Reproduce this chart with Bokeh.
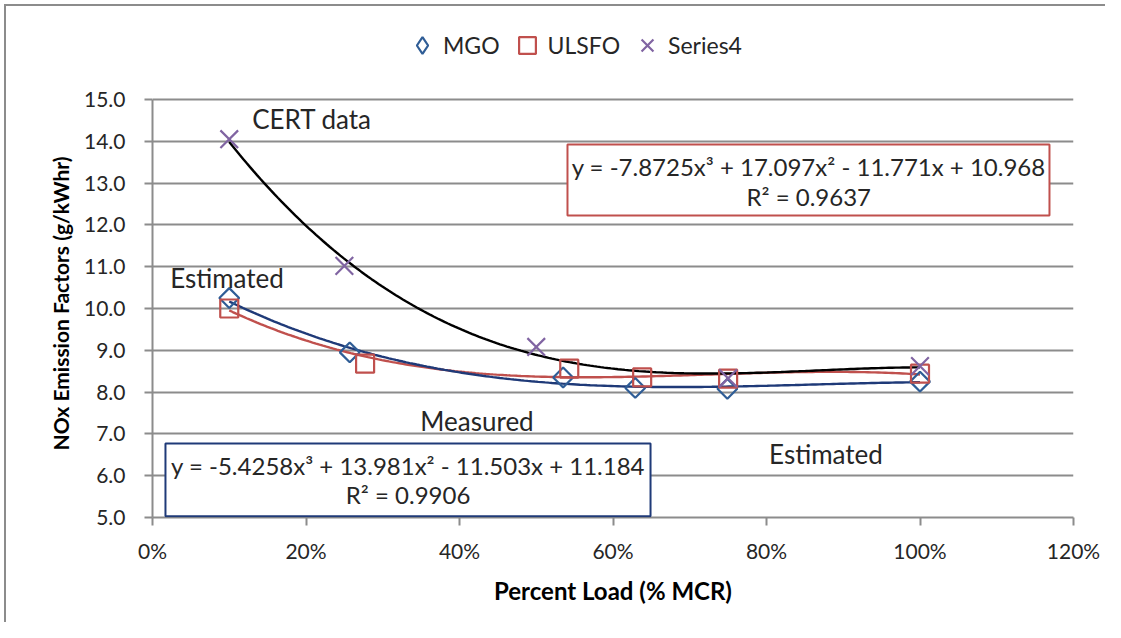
import numpy as np
from bokeh.plotting import figure
from bokeh.models import (Range1d, FixedTicker, NumeralTickFormatter, Legend,
                          LegendItem, Label, BoxAnnotation, Title)
from bokeh.embed import file_html
from bokeh.resources import INLINE

# ---------------- data ----------------
mgo_load = [0.10, 0.257, 0.535, 0.629, 0.749, 1.00]
mgo_nox = [10.25, 8.95, 8.35, 8.10, 8.08, 8.25]

ulsfo_load = [0.10, 0.277, 0.543, 0.638, 0.750, 1.00]
ulsfo_nox = [10.00, 8.68, 8.56, 8.35, 8.32, 8.44]

s4_load = [0.10, 0.25, 0.50, 0.75, 1.00]
s4_nox = [14.05, 11.02, 9.08, 8.33, 8.62]

# trendline coefficients shown on the chart (highest power first)
mgo_fit = [-5.4258, 13.981, -11.503, 11.184]
ulsfo_fit = [-7.8725, 17.097, -11.771, 10.968]

x_ticks = [0, 0.2, 0.4, 0.6, 0.8, 1.0, 1.2]
y_ticks = [5, 6, 7, 8, 9, 10, 11, 12, 13, 14, 15]

mgo_eq = "y = -5.4258x³ + 13.981x² - 11.503x + 11.184"
mgo_r2 = "R² = 0.9906"
ulsfo_eq = "y = -7.8725x³ + 17.097x² - 11.771x + 10.968"
ulsfo_r2 = "R² = 0.9637"

FONT = "Lato"
GRID = "#8c8c8c"
TXT = "#262626"
BLUE = "#2f5d96"
NAVY = "#1f3a78"
RED = "#c0504d"
PURPLE = "#8064a2"

# plot frame extends above the 15.0 line to hold the legend (axis bounded 5-15)
Y_TOP = 5 + 10 * 507 / 418

p = figure(width=1105, height=622, output_backend="svg", toolbar_location=None,
           x_range=Range1d(0, 1.2), y_range=Range1d(5, Y_TOP),
           min_border_left=152, min_border_right=32, min_border_top=10,
           min_border_bottom=105)
line_bg = f"linear-gradient({GRID}, {GRID})"
p.styles = {"background": f"{line_bg} 4px 4px / 2px 100% no-repeat, "
                          f"{line_bg} 4px 4px / 100% 2px no-repeat, white"}
p.outline_line_color = None
p.background_fill_color = "white"
p.border_fill_color = None

# axes
p.xaxis.ticker = FixedTicker(ticks=x_ticks)
p.xaxis.formatter = NumeralTickFormatter(format="0%")
p.yaxis.ticker = FixedTicker(ticks=y_ticks)
p.yaxis.formatter = NumeralTickFormatter(format="0.0")
p.yaxis.bounds = (5, 15)
for ax in (p.xaxis[0], p.yaxis[0]):
    ax.axis_line_color = GRID
    ax.axis_line_width = 2
    ax.major_tick_line_color = GRID
    ax.major_tick_line_width = 2
    ax.major_tick_out = 8
    ax.major_tick_in = 0
    ax.minor_tick_line_color = None
    ax.major_label_text_font = FONT
    ax.major_label_text_font_size = "21px"
    ax.major_label_text_color = TXT
    ax.axis_label_text_font = FONT
    ax.axis_label_text_font_style = "bold"
    ax.axis_label_text_color = "#000000"
p.xaxis.axis_label = "Percent Load (% MCR)"
p.xaxis.axis_label_text_font_size = "24px"
p.xaxis.major_label_standoff = 12
p.yaxis.major_label_standoff = 19
p.xaxis.axis_label_standoff = 10

# vertical axis title, placed along the bounded 5-15 part of the axis
p.add_layout(Title(text="NOx Emission Factors (g/kWhr)", align="left", offset=67,
                   text_font=FONT, text_font_size="21px", text_font_style="bold",
                   text_color="#000000", standoff=18), "left")

p.xgrid.visible = False
p.ygrid.grid_line_color = GRID
p.ygrid.grid_line_width = 2

# trendlines
xs = np.linspace(min(ulsfo_load), max(ulsfo_load), 200)
p.line(xs, np.polyval(ulsfo_fit, xs), line_color=RED, line_width=2.4)
xs_m = np.linspace(min(mgo_load), max(mgo_load), 200)
p.line(xs_m, np.polyval(mgo_fit, xs_m), line_color=NAVY, line_width=2.4)
s4_fit = np.polyfit(s4_load, s4_nox, 3)
xs_s = np.linspace(min(s4_load), max(s4_load), 200)
p.line(xs_s, np.polyval(s4_fit, xs_s), line_color="black", line_width=2.4)

# markers
p.scatter(mgo_load, mgo_nox, marker="square", angle=np.pi / 4, size=14,
          fill_color=None, line_color=BLUE, line_width=2.2)
r_ul = p.scatter(ulsfo_load, ulsfo_nox, marker="square", size=18,
                 fill_color=None, line_color=RED, line_width=2.2)
r_s4 = p.scatter(s4_load, s4_nox, marker="x", size=25,
                 line_color=PURPLE, line_width=2.2)
# legend swatch for MGO (legend glyphs are never rotated, so use a diamond;
# zero size keeps it invisible on the plot, the legend sizes it itself)
r_mgo_key = p.scatter(mgo_load, mgo_nox, marker="diamond", size=0,
                      fill_color=None, line_color=BLUE, line_width=2.2)

# equation boxes
p.add_layout(BoxAnnotation(left=0.5407, right=1.1687, top=13.923, bottom=12.225,
                           fill_color="white", fill_alpha=1, line_alpha=1,
                           line_color=RED, line_width=2))
p.add_layout(BoxAnnotation(left=0.0169, right=0.6489, top=6.77, bottom=5.03,
                           fill_color="white", fill_alpha=1, line_alpha=1,
                           line_color=NAVY, line_width=2))


def lab(x, y, text, size):
    p.add_layout(Label(x=x, y=y, text=text, text_align="center",
                       text_baseline="middle", text_font=FONT,
                       text_font_size=size, text_color=TXT))


lab(0.855, 13.40, ulsfo_eq, "24px")
lab(0.855, 12.68, ulsfo_r2, "24px")
lab(0.333, 6.24, mgo_eq, "24px")
lab(0.333, 5.55, mgo_r2, "24px")

lab(0.2078, 14.545, "CERT data", "26px")
lab(0.0971, 10.72, "Estimated", "26px")
lab(0.4228, 7.32, "Measured", "26px")
lab(0.8775, 6.53, "Estimated", "26px")

legend = Legend(items=[LegendItem(label="MGO", renderers=[r_mgo_key]),
                       LegendItem(label="ULSFO", renderers=[r_ul]),
                       LegendItem(label="Series4", renderers=[r_s4])],
                orientation="horizontal", location=(249, 451),
                glyph_width=42, glyph_height=42, label_standoff=0, spacing=6,
                padding=0, margin=0, border_line_color=None,
                background_fill_alpha=0,
                label_text_font=FONT, label_text_font_size="23px",
                label_text_color=TXT)
p.add_layout(legend)

open("out.html", "w").write(file_html(p, INLINE))
